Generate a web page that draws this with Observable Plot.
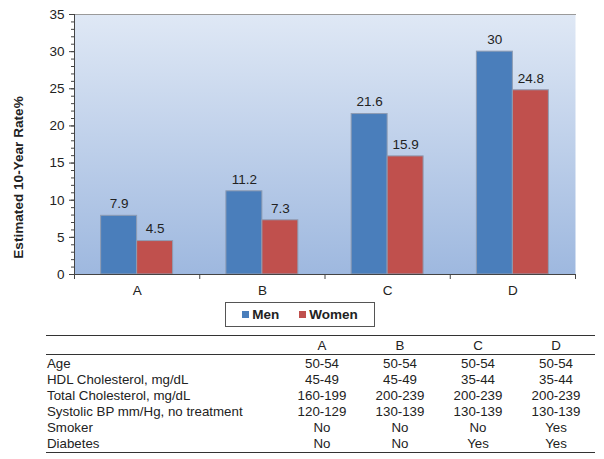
<!DOCTYPE html>
<html>
<head>
<meta charset="utf-8">
<script src="https://cdn.jsdelivr.net/npm/d3@7"></script>
<script src="https://cdn.jsdelivr.net/npm/@observablehq/plot@0.6"></script>
<style>
  html, body { margin: 0; padding: 0; background: #fff; }
  #wrap { position: relative; width: 604px; height: 459px; font-family: "Liberation Sans", Arial, sans-serif; color: #222; }
  #chart svg { display: block; }
  #legend { position: absolute; left: 225px; top: 302px; width: 148px; height: 23px; border: 1px solid #555; display: flex; align-items: center; justify-content: center; gap: 20px; font-size: 13.5px; font-weight: bold; }
  #legend .item { display: flex; align-items: center; gap: 3px; }
  #legend .sw { width: 7px; height: 7px; display: inline-block; }
  #table { position: absolute; left: 46px; top: 335px; width: 549px; border-collapse: collapse; font-size: 13.3px; }
  #table td, #table th { padding: 0; height: 16px; line-height: 16px; font-weight: normal; white-space: nowrap; }
  #table th { height: 15.5px; padding-top: 2px; }
  #table thead tr { border-top: 1.5px solid #333; border-bottom: 1.5px solid #333; }
  #table tbody tr:first-child td { padding-top: 1px; }
  #table tbody tr:last-child { border-bottom: 1.5px solid #333; }
  #table td.v, #table th.v { text-align: center; width: 78px; }
  #table td.l, #table th.l { text-align: left; padding-left: 1px; }
</style>
</head>
<body>
<div id="wrap">
  <div id="chart"></div>
  <div id="legend"></div>
  <table id="table"></table>
</div>
<script>
// ---- data ----
const categories = ["A", "B", "C", "D"];
const series = ["Men", "Women"];
const men = [7.9, 11.2, 21.6, 30];
const women = [4.5, 7.3, 15.9, 24.8];
const seriesColors = ["#4a7ebb", "#c0504d"];
const yTicks = [0, 5, 10, 15, 20, 25, 30, 35];
const yLabel = "Estimated 10-Year Rate%";

const rowLabels = ["Age", "HDL Cholesterol, mg/dL", "Total Cholesterol, mg/dL", "Systolic BP mm/Hg, no treatment", "Smoker", "Diabetes"];
const colA = ["50-54", "45-49", "160-199", "120-129", "No", "No"];
const colB = ["50-54", "45-49", "200-239", "130-139", "No", "No"];
const colC = ["50-54", "35-44", "200-239", "130-139", "No", "Yes"];
const colD = ["50-54", "35-44", "200-239", "130-139", "Yes", "Yes"];

// ---- grouped layout through a band scale ----
const inner = d3.scaleBand().domain(series).range([0, 1]).paddingInner(0).paddingOuter(0.74);
const values = [men, women];
const data = [];
categories.forEach((c, i) => {
  series.forEach((s, j) => {
    const x1 = i + inner(s);
    data.push({cat: c, series: s, value: values[j][i], x1, x2: x1 + inner.bandwidth()});
  });
});

const chart = Plot.plot({
  width: 604,
  height: 300,
  marginLeft: 74,
  marginRight: 29,
  marginTop: 14,
  marginBottom: 26,
  style: {fontFamily: "'Liberation Sans', Arial, sans-serif", fontSize: "13.5px", color: "#222", background: "transparent"},
  x: {domain: [0, categories.length]},
  y: {domain: [0, 35]},
  color: {domain: series, range: seriesColors},
  marks: [
    Plot.frame({fill: "url(#bggrad)", stroke: null}),
    Plot.frame({anchor: "top", stroke: "#9a9a9a"}),
    Plot.rectY(data, {x1: "x1", x2: "x2", y: "value", fill: "series", stroke: "#8e9cb3", strokeWidth: 1}),
    Plot.text(data, {x: d => (d.x1 + d.x2) / 2, y: "value", text: d => String(d.value), dy: -12, fontSize: 13.5}),
    Plot.ruleX([0], {stroke: "#444"}),
    Plot.ruleY([0], {stroke: "#444"}),
    Plot.axisY({ticks: d3.range(0, 36), tickSize: 3, tickFormat: () => "", label: null, stroke: "#444"}),
    Plot.axisY({ticks: yTicks, tickSize: 5, tickPadding: 5, stroke: "#444", label: null, fontSize: 13.5}),
    Plot.text([yLabel], {text: d => d, frameAnchor: "left", textAnchor: "middle", rotate: -90, dx: -56, dy: 33, fontSize: 13.6, fontWeight: "bold"}),
    Plot.axisX({ticks: d3.range(0, categories.length + 1), tickSize: 5, tickFormat: () => "", label: null, stroke: "#444"}),
    Plot.axisX({ticks: categories.map((c, i) => i + 0.5), tickSize: 0, tickPadding: 11, tickFormat: v => categories[Math.floor(v)], label: null, fontSize: 13.5})
  ]
});

// gradient background for the plot frame
const defs = d3.select(chart).insert("defs", ":first-child");
const grad = defs.append("linearGradient").attr("id", "bggrad").attr("x1", 0).attr("y1", 0).attr("x2", 0).attr("y2", 1);
grad.append("stop").attr("offset", "0%").attr("stop-color", "#dfe8f5");
grad.append("stop").attr("offset", "100%").attr("stop-color", "#9eb8df");

document.getElementById("chart").append(chart);

// legend
const legend = d3.select("#legend");
series.forEach((s, j) => {
  const it = legend.append("div").attr("class", "item");
  it.append("span").attr("class", "sw").style("background", seriesColors[j]);
  it.append("span").text(s);
});

// table
const table = d3.select("#table");
const hr = table.append("thead").append("tr");
hr.append("th").attr("class", "l");
categories.forEach(c => hr.append("th").attr("class", "v").text(c));
const tb = table.append("tbody");
rowLabels.forEach((lab, r) => {
  const tr = tb.append("tr");
  tr.append("td").attr("class", "l").text(lab);
  [colA, colB, colC, colD].forEach(col => tr.append("td").attr("class", "v").text(col[r]));
});
</script>
</body>
</html>
